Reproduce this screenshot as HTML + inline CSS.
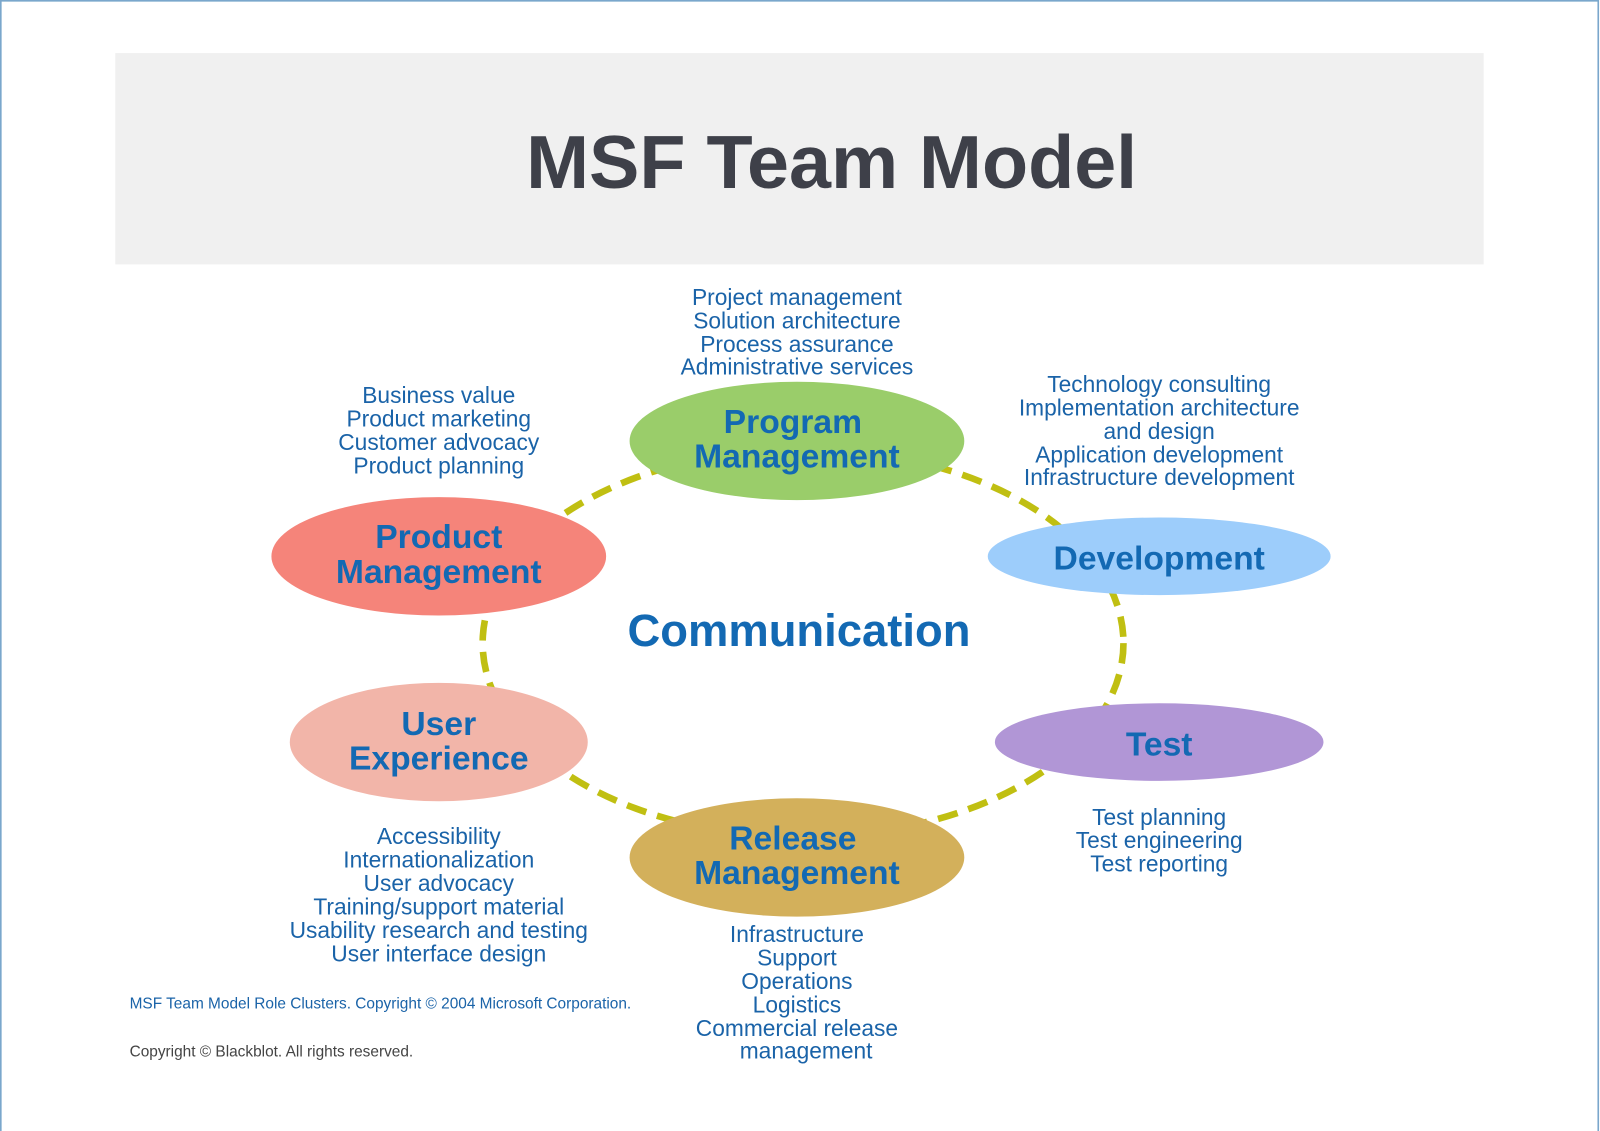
<!DOCTYPE html>
<html><head><meta charset="utf-8"><style>
html,body{margin:0;padding:0;background:#fff;}
svg{display:block;}
text{font-family:"Liberation Sans",Arial,sans-serif;}
.l{font-size:22.3px;fill:#1a63a8;text-anchor:middle;}
.b{font-size:33px;font-weight:bold;fill:#1369b3;text-anchor:middle;}
</style></head><body>
<svg width="1600" height="1131" viewBox="0 0 1568 1108" preserveAspectRatio="none" xmlns="http://www.w3.org/2000/svg">
<rect x="0" y="0" width="1568" height="1108" fill="#fff"/>
<rect x="0.8" y="0.8" width="1565.5" height="1110" fill="none" stroke="#7aa7cc" stroke-width="1.6"/>
<rect x="113" y="52" width="1341" height="207" fill="#f0f0f0"/>
<text x="815" y="184" text-anchor="middle" font-size="74" font-weight="bold" fill="#3e4049">MSF Team Model</text>
<ellipse cx="787" cy="630" rx="314" ry="190" fill="none" stroke="#c0bf12" stroke-width="6.5" stroke-dasharray="20 11"/>
<ellipse cx="781" cy="432" rx="164" ry="58" fill="#9acd6a"/>
<ellipse cx="430" cy="545" rx="164" ry="58" fill="#f5847a"/>
<ellipse cx="1136" cy="545" rx="168" ry="38" fill="#9dcdfb"/>
<ellipse cx="430" cy="727" rx="146" ry="58" fill="#f2b5a9"/>
<ellipse cx="1136" cy="727" rx="161" ry="38" fill="#b196d6"/>
<ellipse cx="781" cy="840" rx="164" ry="58" fill="#d3b05b"/>
<text class="b" x="777" y="424">Program</text><text class="b" x="781" y="458">Management</text>
<text class="b" x="430" y="537">Product</text><text class="b" x="430" y="571">Management</text>
<text class="b" x="1136" y="558">Development</text>
<text class="b" x="430" y="720">User</text><text class="b" x="430" y="754">Experience</text>
<text class="b" x="1136" y="740">Test</text>
<text class="b" x="777" y="832">Release</text><text class="b" x="781" y="866">Management</text>
<text x="783" y="633" text-anchor="middle" font-size="44.5" font-weight="bold" fill="#1369b3">Communication</text>
<g class="l">
<text x="781" y="299">Project management</text><text x="781" y="322">Solution architecture</text><text x="781" y="345">Process assurance</text><text x="781" y="367">Administrative services</text>
<text x="430" y="395">Business value</text><text x="430" y="418">Product marketing</text><text x="430" y="441">Customer advocacy</text><text x="430" y="464">Product planning</text>
<text x="1136" y="384">Technology consulting</text><text x="1136" y="407">Implementation architecture</text><text x="1136" y="430">and design</text><text x="1136" y="453">Application development</text><text x="1136" y="475">Infrastructure development</text>
<text x="1136" y="808">Test planning</text><text x="1136" y="831">Test engineering</text><text x="1136" y="854">Test reporting</text>
<text x="430" y="827">Accessibility</text><text x="430" y="850">Internationalization</text><text x="430" y="873">User advocacy</text><text x="430" y="896">Training/support material</text><text x="430" y="919">Usability research and testing</text><text x="430" y="942">User interface design</text>
<text x="781" y="923">Infrastructure</text><text x="781" y="946">Support</text><text x="781" y="969">Operations</text><text x="781" y="992">Logistics</text><text x="781" y="1015">Commercial release</text><text x="790" y="1037">management</text>
</g>
<text x="127" y="988" font-size="15.1" fill="#1a63a8">MSF Team Model Role Clusters.  Copyright © 2004 Microsoft Corporation.</text>
<text x="127" y="1035" font-size="15.1" fill="#444">Copyright © Blackblot.  All rights reserved.</text>
</svg>
</body></html>
